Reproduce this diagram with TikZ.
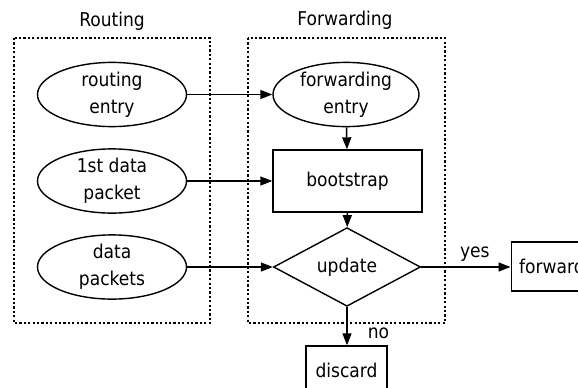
\documentclass[tikz,border=0pt]{standalone}
\usepackage{fontspec}
\setmainfont{DejaVu Sans Condensed}
\usetikzlibrary{shapes.geometric,arrows.meta}

\begin{document}
\begin{tikzpicture}[
		x=1pt,y=-1pt,
		every node/.style={font=\fontsize{19}{27}\selectfont,align=center,inner sep=0pt},
		source/.style={ellipse,draw,line width=1.4pt,minimum width=149pt,minimum height=62pt},
		stepbox/.style={rectangle,draw,line width=1.4pt},
		choice/.style={diamond,draw,line width=1.4pt,minimum width=147pt,minimum height=61pt},
		region/.style={line width=2.6pt,dash pattern=on 2.2pt off 2.2pt},
		flow/.style={line width=1.5pt,-{Triangle[length=12pt,width=9pt]}}
		]
		\clip (0,0) rectangle (578,388);
		\useasboundingbox (0,0) rectangle (578,388);
		% the two regions
		\draw[region] (14,38) rectangle (210,323);
		\draw[region] (248,38) rectangle (445,323);
		\node (routing) at (112,21) {Routing};
		\node (forwarding) at (345,20) {Forwarding};
		% routing side
		\node[source] (rentry) at (112,94.5) {routing\\entry};
		\node[source] (first) at (112,181) {1st data\\packet};
		\node[source] (packets) at (112,267) {data\\packets};
		% forwarding side
		\node[source,minimum width=146pt] (fentry) at (346,94.5) {forwarding\\entry};
		\node[stepbox,minimum width=149pt,minimum height=62pt] (boot) at (347.5,181) {bootstrap};
		\node[choice] (update) at (347,267) {update};
		\node[stepbox,anchor=west,inner xsep=8pt,minimum height=49pt] (forward) at (510.5,266.5) {forward};
		\node[stepbox,minimum width=81pt,minimum height=48pt] (discard) at (346.5,370) {discard};
		% connectors
		\draw[flow] (rentry) -- (fentry);
		\draw[flow] (first) -- (boot);
		\draw[flow] (packets) -- (update);
		\draw[flow] (fentry) -- (boot);
		\draw[flow] (boot) -- (update);
		\draw[flow] (update.east) -- (update.east -| forward.west) node[pos=0.6,above=5pt] (yes) {yes};
		\draw[flow] (update.south) -- (update.south |- discard.north) node[pos=0.68,right=20pt] (no) {no};
	\end{tikzpicture}
\end{document}
